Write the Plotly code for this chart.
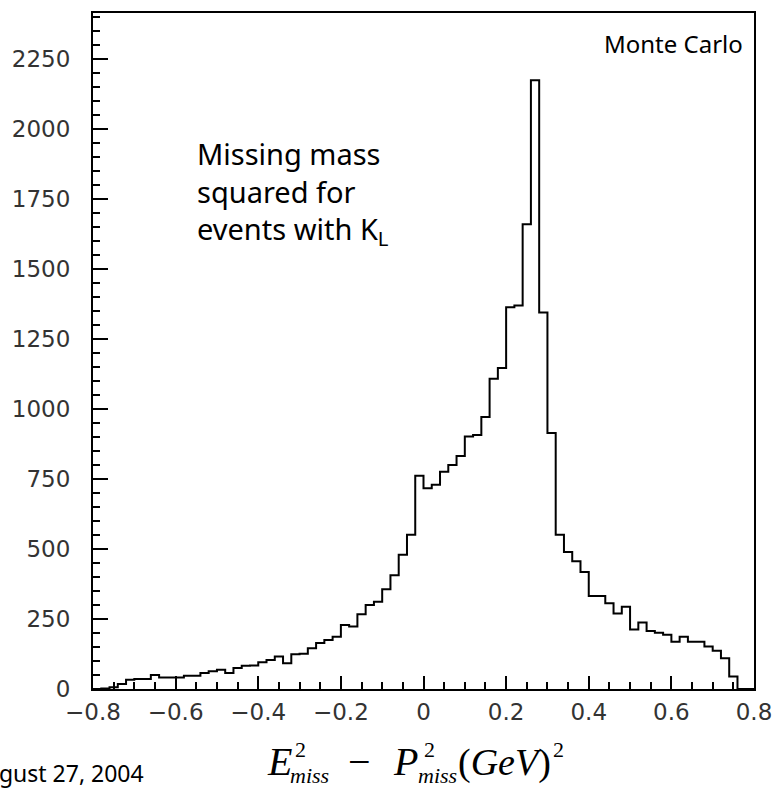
import numpy as np
import plotly.graph_objects as go

# ---- data ----
bin_edges = np.round(np.linspace(-0.8, 0.8, 81), 2).tolist()
counts = [
    0, 2, 6, 18, 33, 36, 36, 50, 41, 41,
    41, 47, 47, 57, 63, 69, 57, 75, 83, 84,
    96, 104, 116, 92, 124, 126, 146, 164, 175, 187,
    229, 223, 267, 300, 312, 356, 406, 480, 551, 762,
    717, 730, 776, 800, 832, 902, 907, 972, 1108, 1147,
    1364, 1370, 1660, 2175, 1345, 915, 551, 489, 456, 418,
    332, 332, 306, 270, 294, 213, 238, 207, 201, 194,
    169, 187, 169, 169, 152, 137, 110, 45, 0, 0,
]
assert len(counts) == len(bin_edges) - 1
x_ticks = [-0.8, -0.6, -0.4, -0.2, 0, 0.2, 0.4, 0.6, 0.8]
y_ticks = [0, 250, 500, 750, 1000, 1250, 1500, 1750, 2000, 2250]

W, H = 783, 789
L, R, T, B = 93, 762.5, 10.5, 689.5


def px(x):
    return (x - L) / (R - L)


def py(y):
    return (B - y) / (B - T)


fig = go.Figure()
fig.add_trace(go.Scatter(
    x=bin_edges, y=counts + [counts[-1]], mode="lines",
    line=dict(shape="hv", color="black", width=2), hoverinfo="skip"))

tickfont = dict(family="DejaVu Sans", size=23, color="#333")
fig.update_xaxes(range=[-0.8, 0.8], tickvals=x_ticks, ticks="inside", ticklen=13, tickwidth=2,
                 tickcolor="black", minor=dict(dtick=0.05, tick0=0, ticks="inside", ticklen=7,
                                               tickwidth=2, tickcolor="black"),
                 showline=True, linecolor="black", linewidth=2, mirror=True,
                 showgrid=False, zeroline=False, tickfont=tickfont, ticklabelstandoff=1)
fig.update_yaxes(range=[0, 2415], tickvals=y_ticks, ticks="inside", ticklen=15, tickwidth=2,
                 tickcolor="black", minor=dict(dtick=50, tick0=0, ticks="inside", ticklen=7,
                                               tickwidth=2, tickcolor="black"),
                 showline=True, linecolor="black", linewidth=2, mirror=True,
                 showgrid=False, zeroline=False, tickfont=tickfont, ticklabelstandoff=16)

ann = []
txt_font = "Noto Sans"
ann.append(dict(x=px(753), y=py(41), text="Monte Carlo", xanchor="right", yanchor="middle",
                font=dict(family=txt_font, size=24, color="black")))
ann.append(dict(x=px(196), y=py(130), text="Missing mass<br>squared for<br>events with K<sub>L</sub>",
                xanchor="left", yanchor="top", align="left",
                font=dict(family=txt_font, size=29, color="black")))
ann.append(dict(x=px(147), y=py(774), text="August 27, 2004", xanchor="right", yanchor="middle",
                font=dict(family=txt_font, size=23, color="black")))

# x-axis title built from pieces (stacked super/subscripts)
serif = "Liberation Serif"
big = 40
small = 22
base = 778  # baseline pixel y of the big letters
bot_big = base + 0.23 * big
sup_bot = base - 0.45 * big + 0.23 * small
sub_bot = base + 0.2 * big + 0.23 * small
pieces = [
    (267, bot_big, "<i>E</i>", big),
    (296, sup_bot, "2", small),
    (291, sub_bot, "<i>miss</i>", small),
    (349, bot_big, "\u2212", big),
    (395, bot_big, "<i>P</i>", big),
    (426, sup_bot, "2", small),
    (420, sub_bot, "<i>miss</i>", small),
    (461, base + 0.23 * 38, "(<i>GeV</i>)", 38),
    (557, sup_bot, "2", small),
]
for x0, y0, t, s in pieces:
    ann.append(dict(x=px(x0), y=py(y0), text=t, xanchor="left", yanchor="bottom",
                    font=dict(family=serif, size=s, color="black")))

for a in ann:
    a.update(xref="paper", yref="paper", showarrow=False)

fig.update_layout(width=W, height=H, margin=dict(l=L, r=W - R, t=T, b=H - B, pad=0),
                  paper_bgcolor="white", plot_bgcolor="white", showlegend=False,
                  annotations=ann)
fig.write_html("out.html")
